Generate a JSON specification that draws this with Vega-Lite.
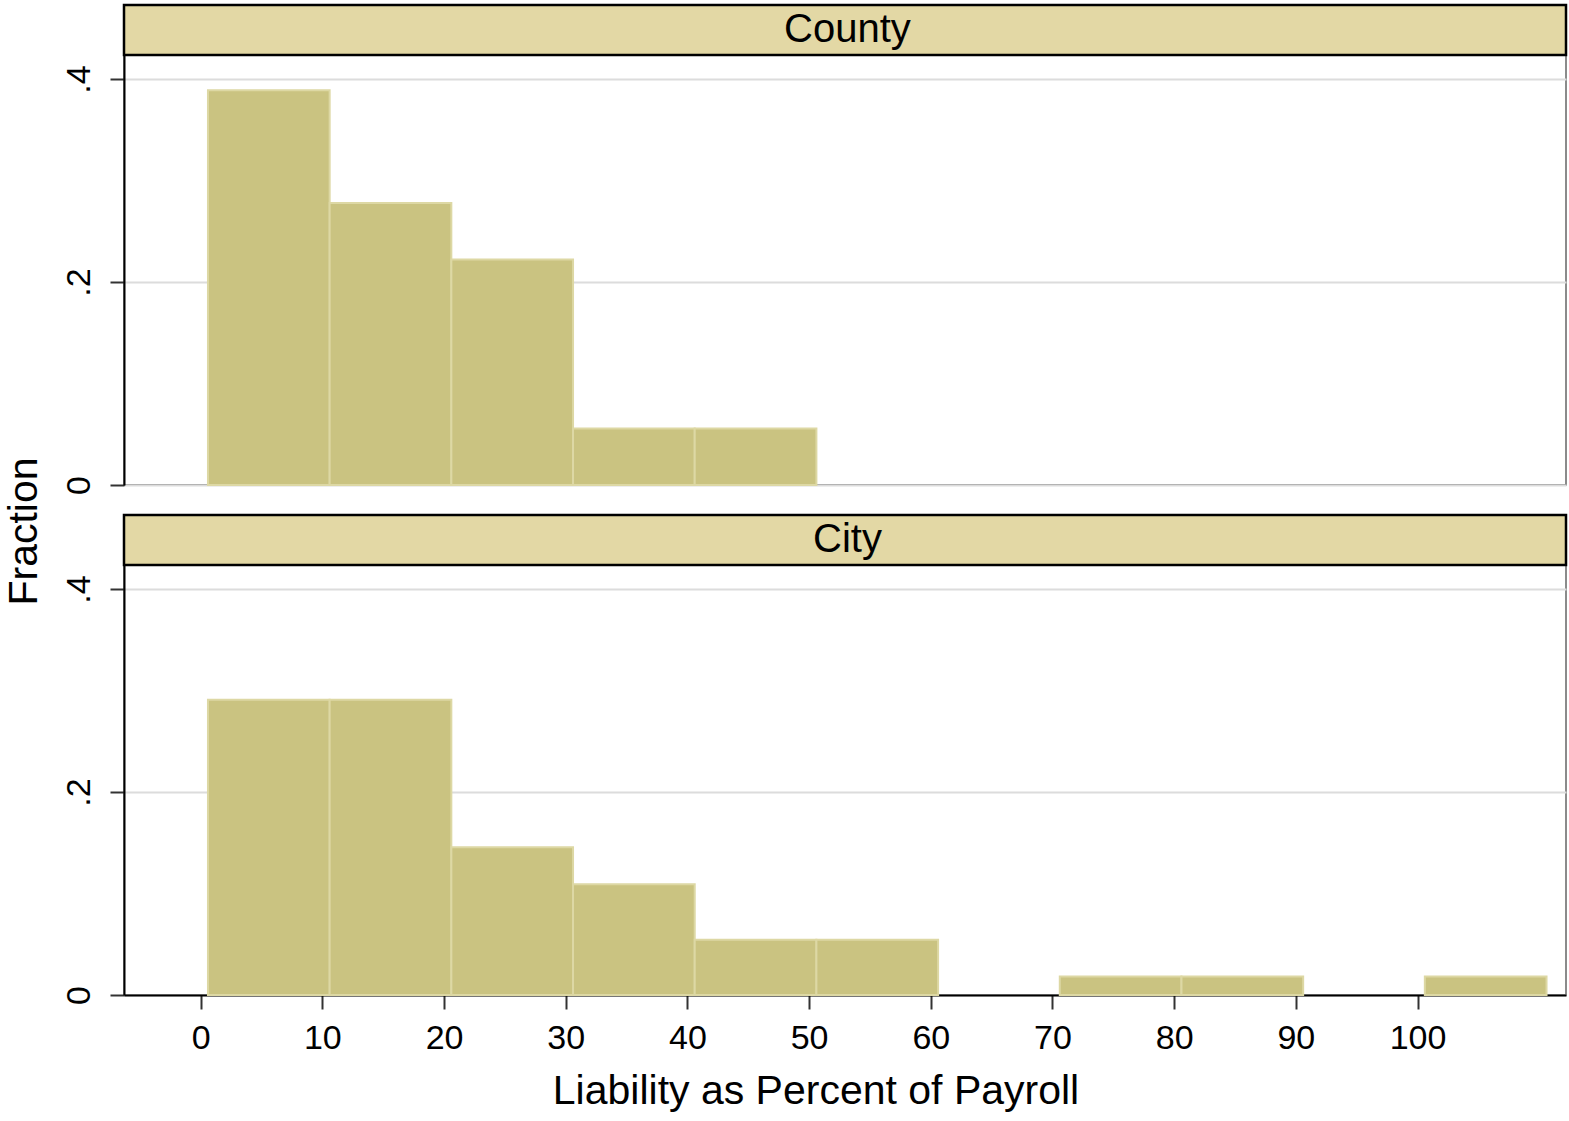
{
  "$schema": "https://vega.github.io/schema/vega-lite/v6.json",
  "padding": {"left": 2, "top": 3, "right": 2, "bottom": 2},
  "background": "white",
  "bounds": "flush",
  "datasets": {
    "hist": [
      {"panel": "County", "bin_start": 0.6, "bin_end": 10.6, "fraction": 0.3889},
      {"panel": "County", "bin_start": 10.6, "bin_end": 20.6, "fraction": 0.2778},
      {"panel": "County", "bin_start": 20.6, "bin_end": 30.6, "fraction": 0.2222},
      {"panel": "County", "bin_start": 30.6, "bin_end": 40.6, "fraction": 0.0556},
      {"panel": "County", "bin_start": 40.6, "bin_end": 50.6, "fraction": 0.0556},
      {"panel": "City", "bin_start": 0.6, "bin_end": 10.6, "fraction": 0.2909},
      {"panel": "City", "bin_start": 10.6, "bin_end": 20.6, "fraction": 0.2909},
      {"panel": "City", "bin_start": 20.6, "bin_end": 30.6, "fraction": 0.1455},
      {"panel": "City", "bin_start": 30.6, "bin_end": 40.6, "fraction": 0.1091},
      {"panel": "City", "bin_start": 40.6, "bin_end": 50.6, "fraction": 0.0545},
      {"panel": "City", "bin_start": 50.6, "bin_end": 60.6, "fraction": 0.0545},
      {"panel": "City", "bin_start": 70.6, "bin_end": 80.6, "fraction": 0.0182},
      {"panel": "City", "bin_start": 80.6, "bin_end": 90.6, "fraction": 0.0182},
      {"panel": "City", "bin_start": 100.6, "bin_end": 110.6, "fraction": 0.0182}
    ],
    "panels": [
      {"panel": "County"},
      {"panel": "City"}
    ]
  },
  "spacing": 30,
  "vconcat": [
    {
      "width": 1442,
      "height": 480,
      "layer": [
        {
          "data": {"name": "hist"},
          "transform": [{"filter": "datum.panel == 'County'"}],
          "mark": {"type": "rect", "fill": "#CAC381", "stroke": "#DDD8A4", "strokeWidth": 2},
          "encoding": {
            "x": {
              "field": "bin_start",
              "type": "quantitative",
              "scale": {"domain": [-6.3, 112.2], "nice": false, "zero": false},
              "axis": null
            },
            "x2": {"field": "bin_end"},
            "y": {
              "field": "fraction",
              "type": "quantitative",
              "scale": {"domain": [0, 0.4729], "nice": false},
              "axis": {
                "values": [0, 0.2, 0.4],
                "title": "Fraction",
                "titleFont": "Liberation Sans",
                "titleFontSize": 41,
                "titleFontWeight": "normal",
                "titleColor": "black",
                "titleAngle": -90,
                "titleAlign": "center",
                "titleBaseline": "alphabetic",
                "titleX": -88,
                "titleY": 526,
                "labelExpr": "datum.value == 0 ? '0' : replace(format(datum.value, '.1f'), '0.', '.')",
                "labelAngle": -90,
                "labelAlign": "center",
                "labelBaseline": "bottom",
                "labelFontSize": 34,
                "labelFont": "Liberation Sans",
                "labelColor": "black",
                "labelPadding": 14,
                "grid": true,
                "gridColor": "#DCDCDC",
                "gridWidth": 2,
                "domainColor": "black",
                "domainWidth": 2,
                "tickColor": "#333",
                "tickWidth": 2,
                "tickSize": 14
              }
            },
            "y2": {"datum": 0}
          }
        },
        {
          "data": {"name": "panels"},
          "transform": [{"filter": "datum.panel == 'County'"}],
          "mark": {"type": "rect", "fill": "#E3D8A5", "stroke": "black", "strokeWidth": 2.5},
          "encoding": {
            "x": {"datum": -6.3, "type": "quantitative"},
            "x2": {"datum": 112.2},
            "y": {"datum": 0.4236, "type": "quantitative"},
            "y2": {"datum": 0.4729}
          }
        },
        {
          "data": {"name": "panels"},
          "transform": [{"filter": "datum.panel == 'County'"}],
          "mark": {"type": "text", "font": "Liberation Sans", "fontSize": 40, "color": "black", "baseline": "middle", "align": "center"},
          "encoding": {
            "x": {"datum": 53.15, "type": "quantitative"},
            "y": {"datum": 0.4483, "type": "quantitative"},
            "text": {"field": "panel"}
          }
        }
      ]
    },
    {
      "width": 1442,
      "height": 480,
      "layer": [
        {
          "data": {"name": "hist"},
          "transform": [{"filter": "datum.panel == 'City'"}],
          "mark": {"type": "rect", "fill": "#CAC381", "stroke": "#DDD8A4", "strokeWidth": 2},
          "encoding": {
            "x": {
              "field": "bin_start",
              "type": "quantitative",
              "scale": {"domain": [-6.3, 112.2], "nice": false, "zero": false},
              "axis": {
                "values": [0, 10, 20, 30, 40, 50, 60, 70, 80, 90, 100],
                "title": "Liability as Percent of Payroll",
                "grid": false,
                "domainColor": "black",
                "domainWidth": 2,
                "tickColor": "#333",
                "tickWidth": 2,
                "tickSize": 14,
                "labelFontSize": 34,
                "labelFont": "Liberation Sans",
                "labelColor": "black",
                "labelPadding": 12,
                "titleFont": "Liberation Sans",
                "titleFontSize": 41,
                "titleFontWeight": "normal",
                "titleColor": "black",
                "titlePadding": 16,
                "titleX": 691.5,
                "titleAlign": "center"
              }
            },
            "x2": {"field": "bin_end"},
            "y": {
              "field": "fraction",
              "type": "quantitative",
              "scale": {"domain": [0, 0.4729], "nice": false},
              "axis": {
                "values": [0, 0.2, 0.4],
                "title": null,
                "labelExpr": "datum.value == 0 ? '0' : replace(format(datum.value, '.1f'), '0.', '.')",
                "labelAngle": -90,
                "labelAlign": "center",
                "labelBaseline": "bottom",
                "labelFontSize": 34,
                "labelFont": "Liberation Sans",
                "labelColor": "black",
                "labelPadding": 14,
                "grid": true,
                "gridColor": "#DCDCDC",
                "gridWidth": 2,
                "domainColor": "black",
                "domainWidth": 2,
                "tickColor": "#333",
                "tickWidth": 2,
                "tickSize": 14
              }
            },
            "y2": {"datum": 0}
          }
        },
        {
          "data": {"name": "panels"},
          "transform": [{"filter": "datum.panel == 'City'"}],
          "mark": {"type": "rect", "fill": "#E3D8A5", "stroke": "black", "strokeWidth": 2.5},
          "encoding": {
            "x": {"datum": -6.3, "type": "quantitative"},
            "x2": {"datum": 112.2},
            "y": {"datum": 0.4236, "type": "quantitative"},
            "y2": {"datum": 0.4729}
          }
        },
        {
          "data": {"name": "panels"},
          "transform": [{"filter": "datum.panel == 'City'"}],
          "mark": {"type": "text", "font": "Liberation Sans", "fontSize": 40, "color": "black", "baseline": "middle", "align": "center"},
          "encoding": {
            "x": {"datum": 53.15, "type": "quantitative"},
            "y": {"datum": 0.4483, "type": "quantitative"},
            "text": {"field": "panel"}
          }
        }
      ]
    }
  ],
  "config": {
    "view": {"stroke": "#666", "strokeWidth": 1.5}
  }
}
